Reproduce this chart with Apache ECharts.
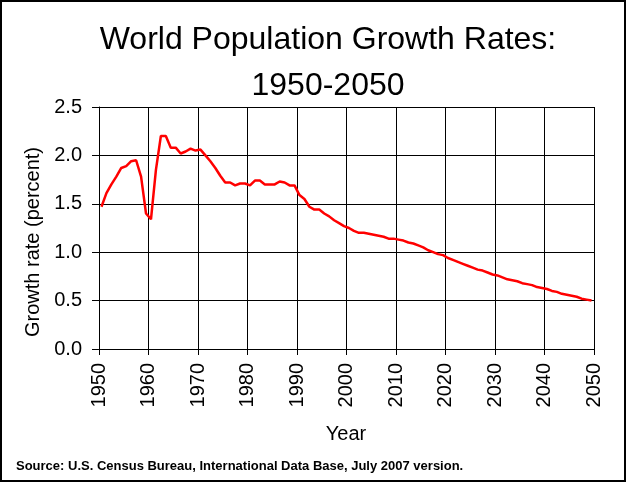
<!DOCTYPE html>
<html>
<head>
<meta charset="utf-8">
<script src="https://cdn.jsdelivr.net/npm/echarts@6/dist/echarts.min.js"></script>
<style>
  html, body { margin: 0; padding: 0; background: #fff; }
  #chart { width: 626px; height: 482px; }
</style>
</head>
<body>
<div id="chart"></div>
<script>
// years 1950..2049, each rate plotted at mid-year
const years = [];
for (let y = 1950; y <= 2049; y++) years.push(y);

const rates = [
  1.47, 1.61, 1.70, 1.78, 1.87, 1.89, 1.94, 1.95, 1.78, 1.40,
  1.34, 1.85, 2.20, 2.20, 2.08, 2.08, 2.02, 2.04, 2.07, 2.05,
  2.06, 2.00, 1.94, 1.87, 1.79, 1.72, 1.72, 1.69, 1.71, 1.71,
  1.69, 1.74, 1.74, 1.70, 1.70, 1.70, 1.73, 1.72, 1.69, 1.69,
  1.59, 1.55, 1.47, 1.44, 1.44, 1.40, 1.37, 1.33, 1.30, 1.27,
  1.25, 1.22, 1.20, 1.20, 1.19, 1.18, 1.17, 1.16, 1.14, 1.14,
  1.13, 1.12, 1.10, 1.09, 1.07, 1.05, 1.02, 1.00, 0.98, 0.97,
  0.94, 0.92, 0.90, 0.88, 0.86, 0.84, 0.82, 0.81, 0.79, 0.77,
  0.76, 0.74, 0.72, 0.71, 0.70, 0.68, 0.67, 0.66, 0.64, 0.63,
  0.62, 0.60, 0.59, 0.57, 0.56, 0.55, 0.54, 0.52, 0.51, 0.50
];

const titleLines = ['World Population Growth Rates:', '1950-2050'];
const yAxisTitle = 'Growth rate (percent)';
const xAxisTitle = 'Year';
const sourceNote = 'Source: U.S. Census Bureau, International Data Base, July 2007 version.';

const font = 'Arial, "Liberation Sans", sans-serif';

let chart = echarts.init(document.getElementById('chart'), null, { renderer: 'canvas' });
const option = {
  backgroundColor: '#fff',
  animation: false,
  grid: { left: 99, right: 32, top: 107, bottom: 133, containLabel: false },
  xAxis: {
    type: 'value',
    min: 1950,
    max: 2050,
    interval: 10,
    axisLine: { show: true, lineStyle: { color: '#000', width: 1 } },
    axisTick: { show: true, length: 6, lineStyle: { color: '#000' } },
    splitLine: { show: true, lineStyle: { color: '#000', width: 1 } },
    axisLabel: {
      rotate: 90,
      margin: 14,
      color: '#000',
      fontSize: 20,
      fontFamily: font,
      formatter: v => String(v)
    }
  },
  yAxis: {
    type: 'value',
    min: 0,
    max: 2.5,
    interval: 0.5,
    axisLine: { show: true, lineStyle: { color: '#000', width: 1 } },
    axisTick: { show: true, length: 7, lineStyle: { color: '#000' } },
    splitLine: { show: true, lineStyle: { color: '#000', width: 1 } },
    axisLabel: {
      margin: 17,
      color: '#000',
      fontSize: 20,
      fontFamily: font,
      formatter: v => v.toFixed(1)
    }
  },
  graphic: [
    { type: 'rect', shape: { x: 1, y: 1, width: 624, height: 480 },
      style: { fill: 'none', stroke: '#000', lineWidth: 2 }, silent: true },
    { type: 'text', x: 328, y: 56,
      style: { text: titleLines[0], font: '32px ' + font, fill: '#000',
               textAlign: 'center', textVerticalAlign: 'bottom' } },
    { type: 'text', x: 328, y: 102,
      style: { text: titleLines[1], font: '32px ' + font, fill: '#000',
               textAlign: 'center', textVerticalAlign: 'bottom' } },
    { type: 'text', x: 33, y: 242, rotation: Math.PI / 2,
      style: { text: yAxisTitle, font: '20px ' + font, fill: '#000',
               textAlign: 'center', textVerticalAlign: 'middle' } },
    { type: 'text', x: 346, y: 434,
      style: { text: xAxisTitle, font: '20px ' + font, fill: '#000',
               textAlign: 'center', textVerticalAlign: 'middle' } },
    { type: 'text', x: 16, y: 466,
      style: { text: sourceNote, font: 'bold 13px "Liberation Sans Narrow", "Arial Narrow", ' + font,
               fill: '#000', textAlign: 'left', textVerticalAlign: 'middle' } }
  ],
  series: [
    {
      type: 'line',
      data: years.map((y, i) => [y + 0.5, rates[i]]),
      showSymbol: false,
      smooth: false,
      lineStyle: { color: '#ff0000', width: 2.5 },
      z: 5
    }
  ]
};
chart.setOption(option);
</script>
</body>
</html>
